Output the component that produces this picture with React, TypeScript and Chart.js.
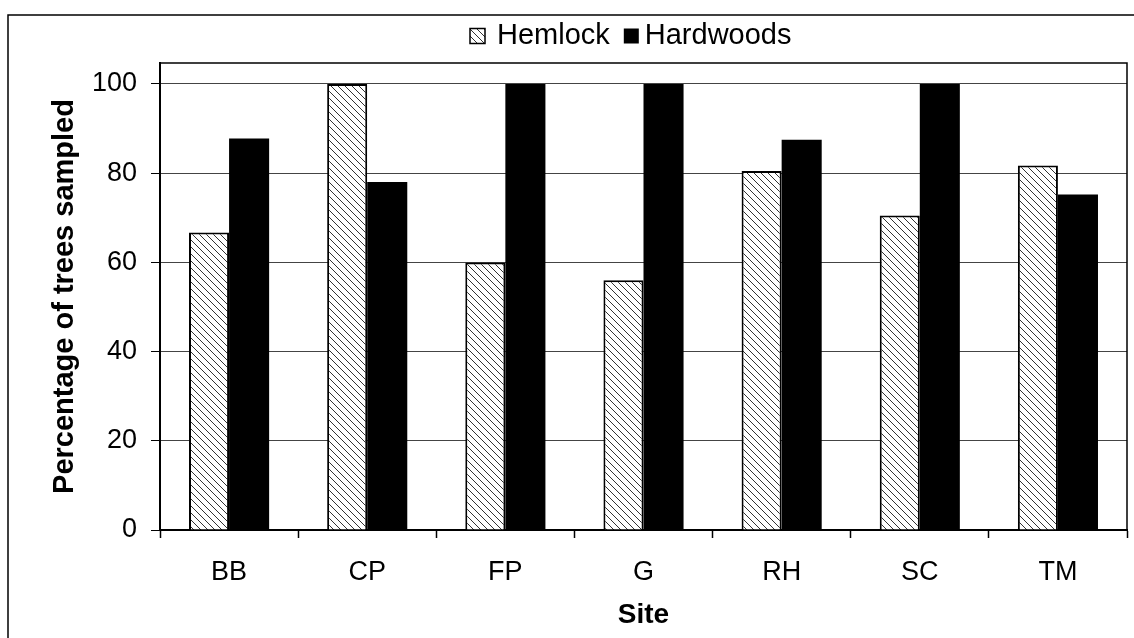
import React, { useEffect, useRef } from "react";
import { Chart, registerables } from "chart.js";

Chart.register(...registerables);

const categories = ["BB", "CP", "FP", "G", "RH", "SC", "TM"];
const hemlock = [66.7, 100, 60, 56, 80.5, 70.5, 81.7];
const hardwoods = [87.8, 78, 100, 100, 87.5, 100, 75.2];
const yTicks = [0, 20, 40, 60, 80, 100];
const seriesNames = ["Hemlock", "Hardwoods"];
const yAxisTitle = "Percentage of trees sampled";
const xAxisTitle = "Site";

const FONT = "'Liberation Sans', Arial, Helvetica, sans-serif";

function makeHatch(): CanvasPattern | string {
  const n = 7;
  const c = document.createElement("canvas");
  c.width = n;
  c.height = n;
  const g = c.getContext("2d");
  if (!g) return "#ccc";
  g.fillStyle = "#ffffff";
  g.fillRect(0, 0, n, n);
  g.strokeStyle = "#333333";
  g.lineWidth = 1;
  g.beginPath();
  g.moveTo(-1, -1);
  g.lineTo(n + 1, n + 1);
  g.moveTo(-n, 0);
  g.lineTo(n, 2 * n);
  g.moveTo(0, -n);
  g.lineTo(2 * n, n);
  g.stroke();
  return g.createPattern(c, "repeat") || "#ccc";
}

export default function App() {
  const ref = useRef<HTMLCanvasElement | null>(null);

  useEffect(() => {
    if (!ref.current) return;
    const hatch = makeHatch();

    const framePlugin = {
      id: "frame",
      beforeDraw(chart: any) {
        const ctx = chart.ctx;
        ctx.save();
        ctx.fillStyle = "#ffffff";
        ctx.fillRect(0, 0, chart.width, chart.height);
        ctx.strokeStyle = "#000";
        ctx.lineWidth = 1.5;
        ctx.beginPath();
        ctx.moveTo(8, chart.height);
        ctx.lineTo(8, 15);
        ctx.lineTo(chart.width, 15);
        ctx.stroke();
        ctx.restore();
      },
      beforeDatasetsDraw(chart: any) {
        const { ctx, chartArea } = chart;
        ctx.save();
        ctx.strokeStyle = "#000";
        ctx.lineWidth = 1.5;
        ctx.beginPath();
        ctx.moveTo(chartArea.left, chartArea.top);
        ctx.lineTo(chartArea.right, chartArea.top);
        ctx.lineTo(chartArea.right, chartArea.bottom);
        ctx.stroke();
        ctx.restore();
      },
      afterDraw(chart: any) {
        const ctx = chart.ctx;
        ctx.save();
        ctx.font = `29px ${FONT}`;
        ctx.textBaseline = "middle";
        ctx.fillStyle = "#000";
        const cy = 36;
        const box = 15;
        let x = 470;
        ctx.fillStyle = hatch as any;
        ctx.fillRect(x, cy - box / 2, box, box);
        ctx.strokeStyle = "#000";
        ctx.lineWidth = 1.5;
        ctx.strokeRect(x, cy - box / 2, box, box);
        x += box + 12;
        ctx.fillStyle = "#000";
        ctx.fillText(seriesNames[0], x, cy);
        x += ctx.measureText(seriesNames[0]).width + 14;
        ctx.fillStyle = "#000";
        ctx.fillRect(x, cy - box / 2, box, box);
        x += box + 6;
        ctx.fillText(seriesNames[1], x, cy);
        ctx.restore();
      },
    };

    const chart = new Chart(ref.current, {
      type: "bar",
      data: {
        labels: categories,
        datasets: [
          {
            label: seriesNames[0],
            data: hemlock,
            backgroundColor: hatch as any,
            borderColor: "#000",
            borderWidth: 2,
            categoryPercentage: 0.58,
            barPercentage: 1.0,
          },
          {
            label: seriesNames[1],
            data: hardwoods,
            backgroundColor: "#000",
            borderColor: "#000",
            borderWidth: 0,
            categoryPercentage: 0.58,
            barPercentage: 1.0,
          },
        ],
      },
      options: {
        responsive: false,
        animation: false,
        devicePixelRatio: 1,
        layout: { padding: { left: 8, right: 7, top: 63, bottom: 0 } },
        plugins: {
          legend: { display: false },
          tooltip: { enabled: false },
          title: { display: false },
        },
        scales: {
          x: {
            offset: true,
            afterFit: (s: any) => {
              s.height = 108;
            },
            ticks: {
              font: { family: FONT, size: 27 },
              color: "#000",
              padding: 18,
              maxRotation: 0,
            },
            grid: {
              drawOnChartArea: false,
              drawTicks: true,
              tickLength: 8,
              tickColor: "#000",
              tickWidth: 1.5,
              offset: true,
            },
            border: { display: true, color: "#000", width: 2 },
            title: {
              display: true,
              text: xAxisTitle,
              font: { family: FONT, size: 28, weight: "bold" },
              color: "#000",
              padding: { top: 0, bottom: 6 },
            },
          },
          y: {
            min: 0,
            max: 104.7,
            afterBuildTicks: (s: any) => {
              s.ticks = yTicks.map((v) => ({ value: v }));
            },
            afterFit: (s: any) => {
              s.width = 152;
            },
            ticks: {
              font: { family: FONT, size: 27 },
              color: "#000",
              padding: 14,
            },
            grid: {
              color: "#444",
              lineWidth: 1,
              tickLength: 9,
              tickColor: "#000",
              drawTicks: true,
            },
            border: { display: true, color: "#000", width: 2 },
            title: {
              display: true,
              text: yAxisTitle,
              font: { family: FONT, size: 29, weight: "bold" },
              color: "#000",
              padding: { top: 40, bottom: 0 },
            },
          },
        },
      },
      plugins: [framePlugin],
    });

    return () => {
      chart.destroy();
    };
  }, []);

  return (
    <div style={{ position: "absolute", left: 0, top: 0, width: 1134, height: 638, background: "#fff" }}>
      <canvas ref={ref} width={1134} height={638} style={{ display: "block" }} />
    </div>
  );
}
